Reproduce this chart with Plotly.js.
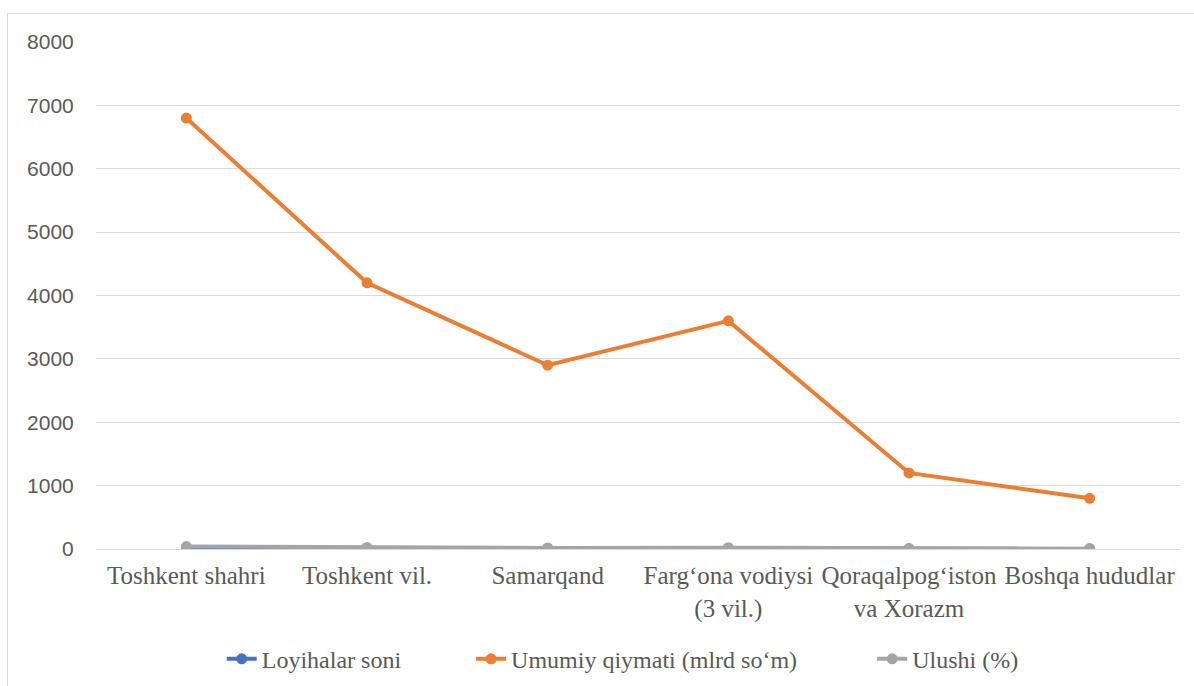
<!DOCTYPE html>
<html>
<head>
<meta charset="utf-8">
<script src="https://cdn.plot.ly/plotly-3.0.1.min.js"></script>
<style>
html,body{margin:0;padding:0;background:#fff;}
#chart{width:1194px;height:686px;}
#frame{position:absolute;left:7px;top:13px;width:1190px;height:680px;border:1px solid #d9d9d9;pointer-events:none;}
</style>
</head>
<body>
<div id="chart"></div>
<div id="frame"></div>
<script>
const categories = ["Toshkent shahri", "Toshkent vil.", "Samarqand", "Farg‘ona vodiysi<br>(3 vil.)", "Qoraqalpog‘iston<br>va Xorazm", "Boshqa hududlar"];
const loyihalarSoni = [14, 9, 5, 8, 3, 3];
const umumiyQiymati = [6800, 4200, 2900, 3600, 1200, 800];
const ulushi = [38, 25, 17, 21, 7, 5];
const yTicks = [0, 1000, 2000, 3000, 4000, 5000, 6000, 7000, 8000];

const serif = "Liberation Serif";

const traces = [
  {x: categories, y: loyihalarSoni, name: "Loyihalar soni", type: "scatter", mode: "lines+markers", legend: "legend",
   line: {color: "#4472c4", width: 4}, marker: {color: "#4472c4", size: 11}},
  {x: categories, y: umumiyQiymati, name: "Umumiy qiymati (mlrd so‘m)", type: "scatter", mode: "lines+markers", legend: "legend2",
   line: {color: "#ed7d31", width: 4}, marker: {color: "#ed7d31", size: 11}},
  {x: categories, y: ulushi, name: "Ulushi (%)", type: "scatter", mode: "lines+markers", legend: "legend3",
   line: {color: "#a5a5a5", width: 4}, marker: {color: "#a5a5a5", size: 11}}
];

function leg(x) {
  return {orientation: "h", x: x, xanchor: "left", yref: "container", y: 0.039, yanchor: "middle",
          font: {family: serif, size: 24, color: "#595959"},
          bgcolor: "rgba(0,0,0,0)", borderwidth: 0};
}

const layout = {
  width: 1194, height: 686,
  margin: {l: 96, r: 14, t: 42, b: 137},
  font: {family: serif, color: "#595959"},
  paper_bgcolor: "#ffffff", plot_bgcolor: "#ffffff",
  showlegend: true,
  legend: leg(0.116),
  legend2: leg(0.346),
  legend3: leg(0.716),
  xaxis: {type: "category", range: [-0.5, 5.5], showgrid: false, zeroline: false, showline: true, linecolor: "#d9d9d9", linewidth: 1,
          ticks: "outside", ticklen: 4, tickcolor: "rgba(0,0,0,0)", automargin: false,
          tickfont: {family: serif, size: 25, color: "#595959"}},
  yaxis: {range: [0, 8000], tickvals: yTicks, ticktext: yTicks.map(String), showgrid: true, gridcolor: "#d9d9d9",
          zeroline: false, showline: false, ticks: "outside", ticklen: 17, tickcolor: "rgba(0,0,0,0)", automargin: false,
          tickfont: {family: "Liberation Sans, Arial, sans-serif", size: 21, color: "#595959"}},
  hovermode: false
};

Plotly.newPlot("chart", traces, layout, {displayModeBar: false, staticPlot: true});
</script>
</body>
</html>
